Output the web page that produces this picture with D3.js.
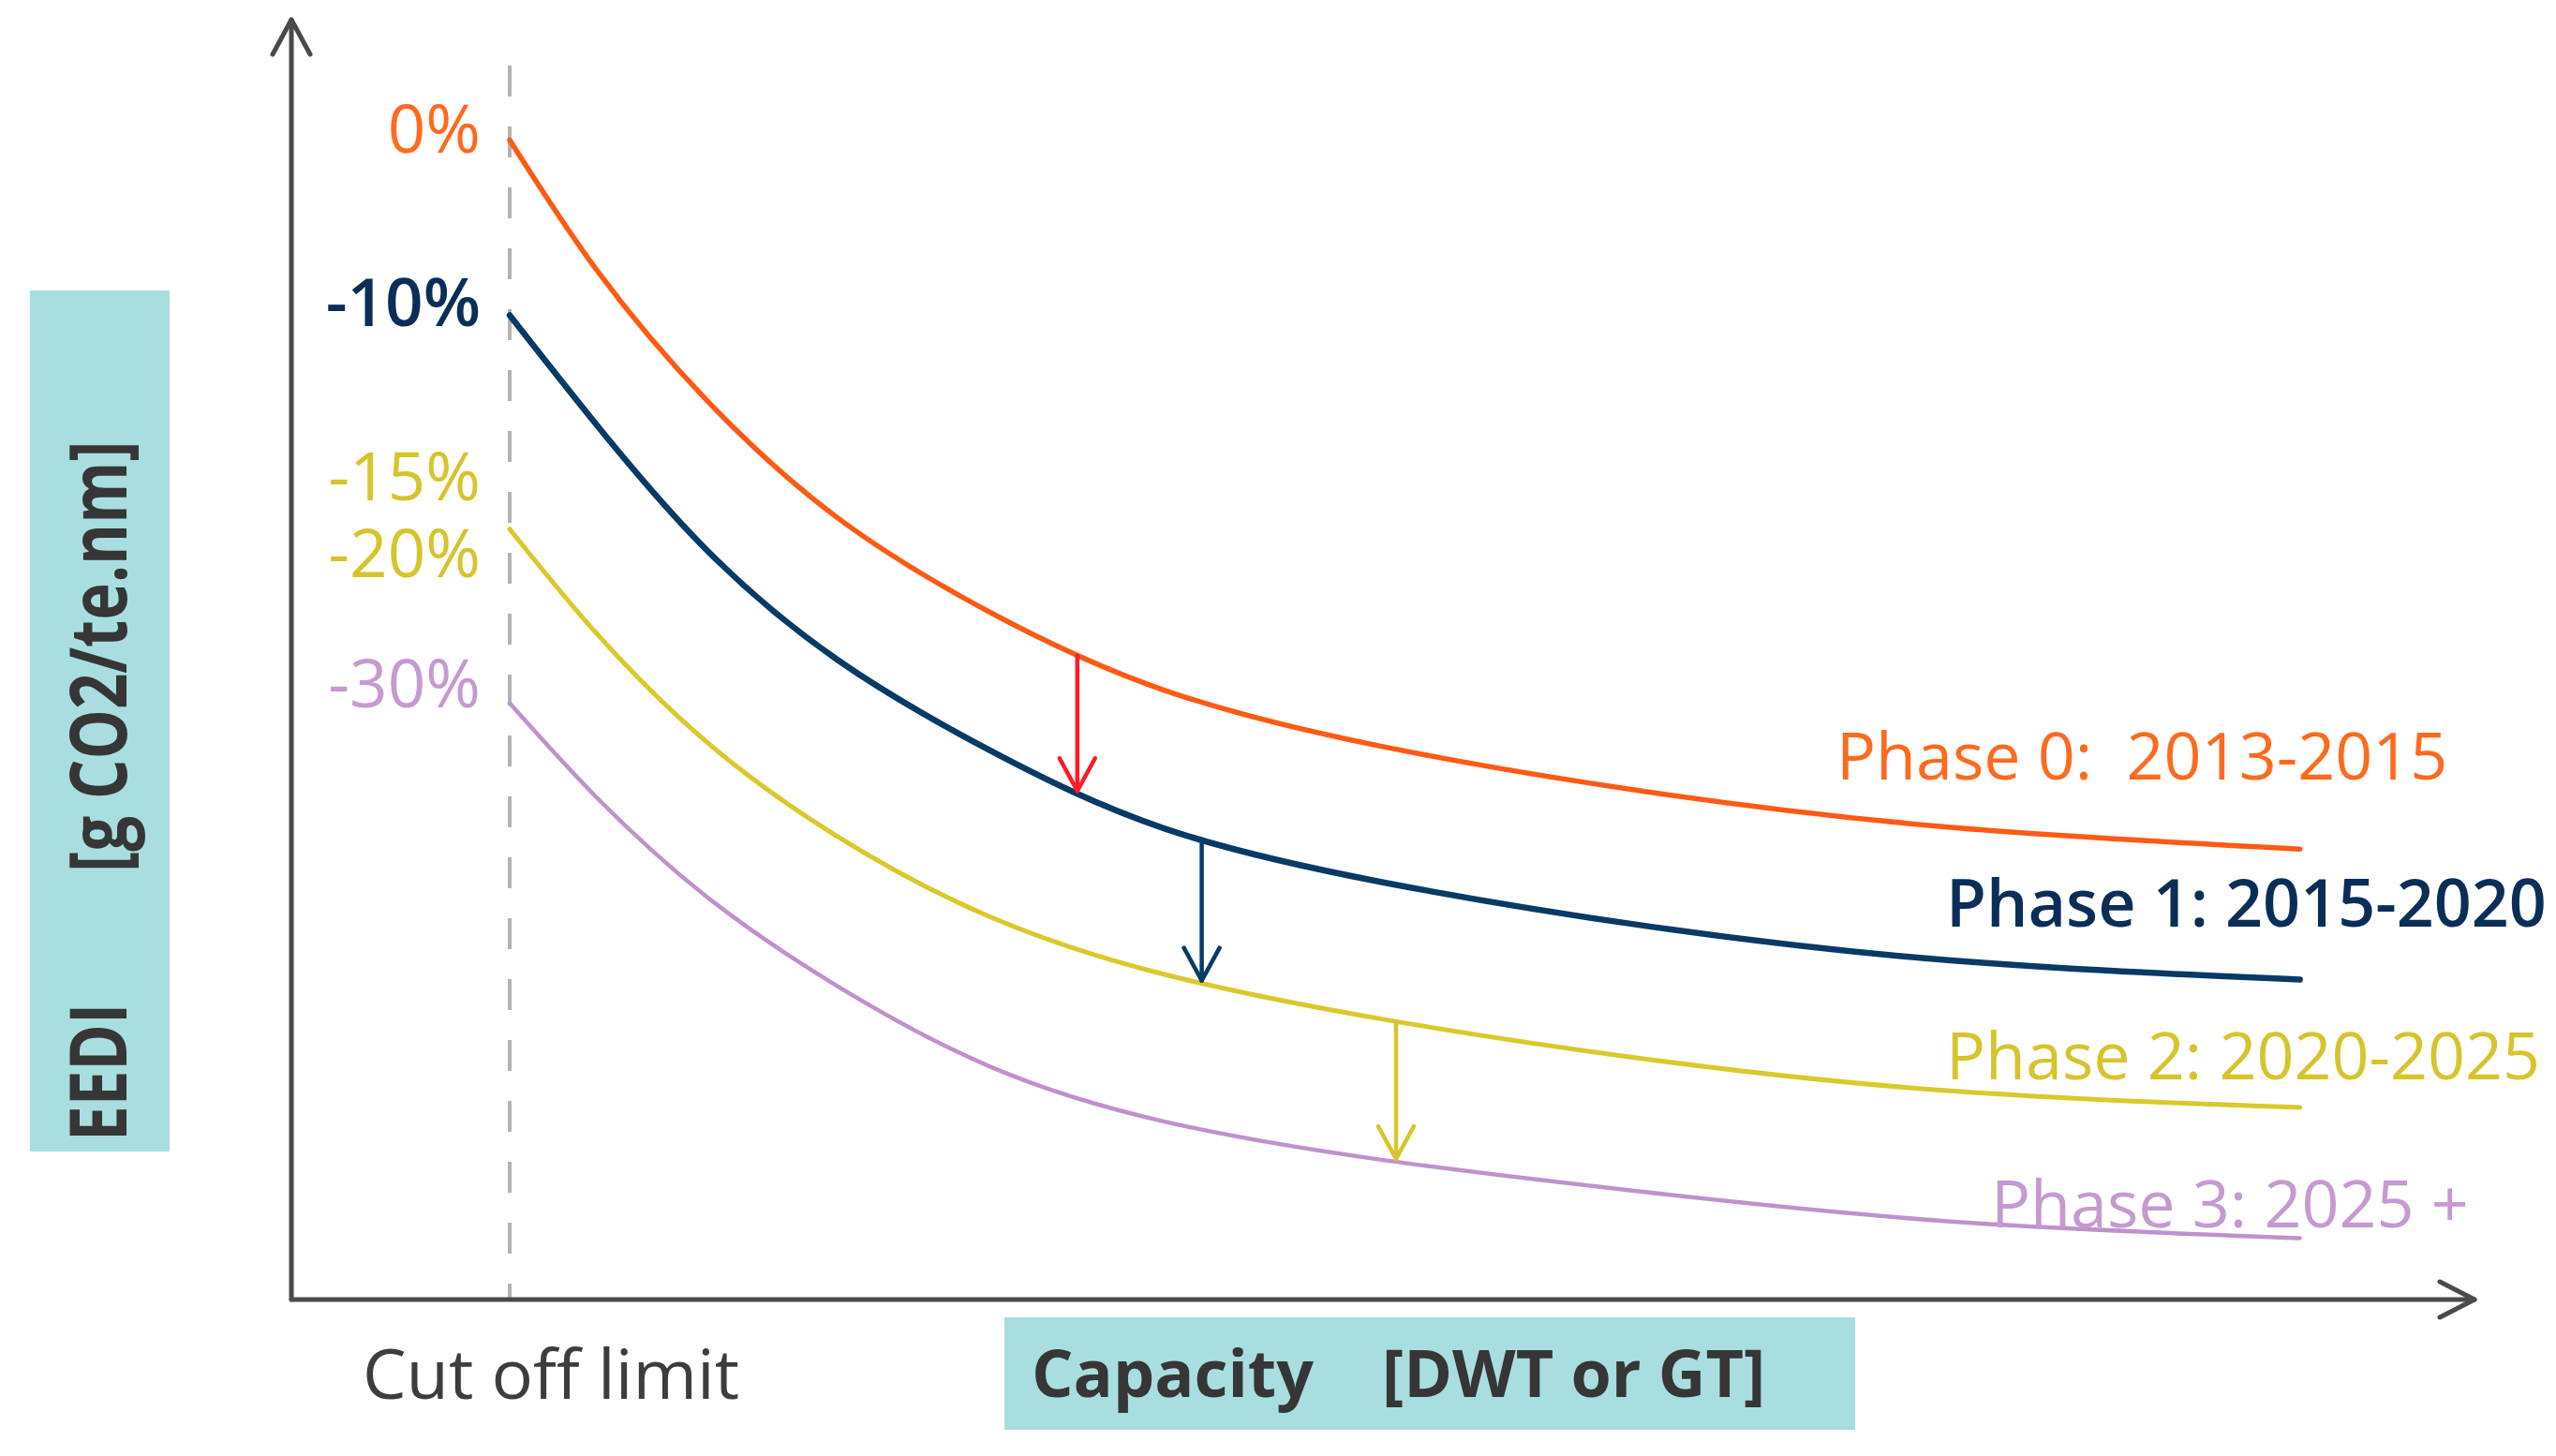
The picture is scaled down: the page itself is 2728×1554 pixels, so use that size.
<!DOCTYPE html>
<html>
<head>
<meta charset="utf-8">
<script src="https://cdn.jsdelivr.net/npm/d3@7"></script>
<style>
  html, body { margin: 0; padding: 0; background: #ffffff; }
  svg { display: block; font-family: "Open Sans", "Noto Sans", sans-serif; }
  text { white-space: pre; }
</style>
</head>
<body>
<svg id="chart" width="2728" height="1554"></svg>
<script>
// ---------------- data ----------------
const capacity = [10, 14, 19, 25, 32, 40, 50, 62, 76, 92];
const phase0 = [90.6, 80.4, 70.3, 61.1, 53.7, 47.6, 43.2, 39.7, 36.9, 35.2];
const phase1 = [76.9, 68.3, 58.6, 50.0, 42.9, 36.8, 32.6, 29.2, 26.5, 25.0];
const phase2 = [60.2, 52.0, 43.6, 36.2, 29.9, 25.4, 21.9, 18.8, 16.3, 15.0];
const phase3 = [46.6, 39.2, 31.5, 24.5, 18.2, 13.9, 10.9, 8.4, 6.1, 4.8];
const seriesNames = ["Phase 0:  2013-2015", "Phase 1: 2015-2020", "Phase 2: 2020-2025", "Phase 3: 2025 +"];
const reductionLabels = ["0%", "-10%", "-15%", "-20%", "-30%"];
const cutOffCapacity = 10;
const arrowCapacity = [36, 41.7, 50.6];   // step-down arrows between consecutive phases
const yTitle = ["EEDI", "[g CO2/te.nm]"];
const xTitle = ["Capacity", "[DWT or GT]"];
const cutOffLabel = "Cut off limit";

// ---------------- layout / styles ----------------
const svg = d3.select("#chart");
const x = d3.scaleLinear().domain([0, 100]).range([311, 2641]);
const y = d3.scaleLinear().domain([0, 100]).range([1387, 21]);

const lineColors = ["#ff5a14", "#073a64", "#d9c92a", "#bf92cc"];
const lineWidths = [5.5, 6.5, 5, 4.5];
const textColors = ["#ff6a1e", "#0a2e57", "#d6c42c", "#c49ad0"];
const textWeights = [400, 600, 400, 400];
const arrowColors = ["#ff1a24", "#073a64", "#d6c62a"];
const teal = "#a9dee0";
const axisColor = "#4a4a4a";

const series = [phase0, phase1, phase2, phase3];

// title boxes
svg.append("rect").attr("x", 32).attr("y", 310).attr("width", 149).attr("height", 919).attr("fill", teal);
svg.append("rect").attr("x", 1072).attr("y", 1406).attr("width", 908).attr("height", 120).attr("fill", teal);

// dashed cut-off line
svg.append("line")
  .attr("x1", x(cutOffCapacity)).attr("x2", x(cutOffCapacity))
  .attr("y1", 70).attr("y2", y(0))
  .attr("stroke", "#b3b3b3").attr("stroke-width", 4)
  .attr("stroke-dasharray", "33,32");

// axes with open arrowheads
const ax = svg.append("g").attr("stroke", axisColor).attr("stroke-width", 5)
  .attr("fill", "none").attr("stroke-linecap", "round").attr("stroke-linejoin", "round");
ax.append("line").attr("x1", x(0)).attr("y1", y(0)).attr("x2", x(0)).attr("y2", y(100));
ax.append("line").attr("x1", x(0)).attr("y1", y(0)).attr("x2", x(100)).attr("y2", y(0));
ax.append("path").attr("d", `M${x(0) - 20},${y(100) + 37} L${x(0)},${y(100)} L${x(0) + 20},${y(100) + 37}`);
ax.append("path").attr("d", `M${x(100) - 37},${y(0) - 19} L${x(100)},${y(0)} L${x(100) - 37},${y(0) + 19}`);

// curves
const line = d3.line()
  .x((d, i) => x(capacity[i]))
  .y(d => y(d))
  .curve(d3.curveNatural);

const paths = series.map((s, k) =>
  svg.append("path")
    .attr("d", line(s))
    .attr("fill", "none")
    .attr("stroke", lineColors[k])
    .attr("stroke-width", lineWidths[k])
    .attr("stroke-linecap", "round")
    .node()
);

// y of a drawn curve at pixel x (x grows with path length)
function yOnPath(node, px) {
  let lo = 0, hi = node.getTotalLength();
  for (let it = 0; it < 40; it++) {
    const mid = (lo + hi) / 2;
    if (node.getPointAtLength(mid).x < px) lo = mid; else hi = mid;
  }
  return node.getPointAtLength((lo + hi) / 2).y;
}

// step arrows
arrowCapacity.forEach((c, k) => {
  const ax0 = x(c);
  const y0 = yOnPath(paths[k], ax0);
  const y1 = yOnPath(paths[k + 1], ax0) - 3;
  const g = svg.append("g").attr("stroke", arrowColors[k]).attr("stroke-width", 4.5)
    .attr("fill", "none").attr("stroke-linecap", "round").attr("stroke-linejoin", "round");
  g.append("line").attr("x1", ax0).attr("x2", ax0).attr("y1", y0).attr("y2", y1);
  g.append("path").attr("d", `M${ax0 - 19},${y1 - 35} L${ax0},${y1} L${ax0 + 19},${y1 - 35}`);
});

// phase labels near curve ends
const phaseLabelPos = [[1960, 832], [2077, 989], [2077, 1152], [2125, 1310]];
seriesNames.forEach((name, k) => {
  svg.append("text")
    .attr("x", phaseLabelPos[k][0]).attr("y", phaseLabelPos[k][1])
    .attr("font-size", 70).attr("font-weight", textWeights[k])
    .attr("fill", textColors[k])
    .text(name);
});

// reduction labels at curve starts (right aligned before cut-off line)
const redColorIdx = [0, 1, 2, 2, 3];
const redSeriesIdx = [0, 1, 2, 2, 3];
const redBaselineOffset = [14, 11, -31, 51, 5];
reductionLabels.forEach((lab, k) => {
  const s = series[redSeriesIdx[k]];
  svg.append("text")
    .attr("x", 513)
    .attr("y", y(s[0]) + redBaselineOffset[k])
    .attr("text-anchor", "end")
    .attr("font-size", 71)
    .attr("font-weight", k === 1 ? 600 : 400)
    .attr("fill", textColors[redColorIdx[k]])
    .text(lab);
});

// y axis title (rotated)
const yt = svg.append("g").attr("transform", "translate(135,1218) rotate(-90) scale(0.8,1)");
yt.append("text").attr("x", 0).attr("y", 0)
  .attr("font-size", 84).attr("font-weight", 700).attr("fill", "#363636")
  .text(yTitle[0]);
yt.append("text").attr("x", (1218 - 931) / 0.8).attr("y", 0)
  .attr("font-size", 84).attr("font-weight", 700).attr("fill", "#363636")
  .text(yTitle[1]);

// x axis title
svg.append("text").attr("x", 1101).attr("y", 1491)
  .attr("font-size", 70).attr("font-weight", 700).attr("fill", "#363636")
  .text(xTitle[0]);
svg.append("text").attr("x", 1475).attr("y", 1491)
  .attr("font-size", 70).attr("font-weight", 700).attr("fill", "#363636")
  .text(xTitle[1]);

// cut-off label
svg.append("text").attr("x", 387).attr("y", 1493)
  .attr("font-size", 74).attr("font-weight", 400).attr("fill", "#3d3d3d")
  .text(cutOffLabel);
</script>
</body>
</html>
